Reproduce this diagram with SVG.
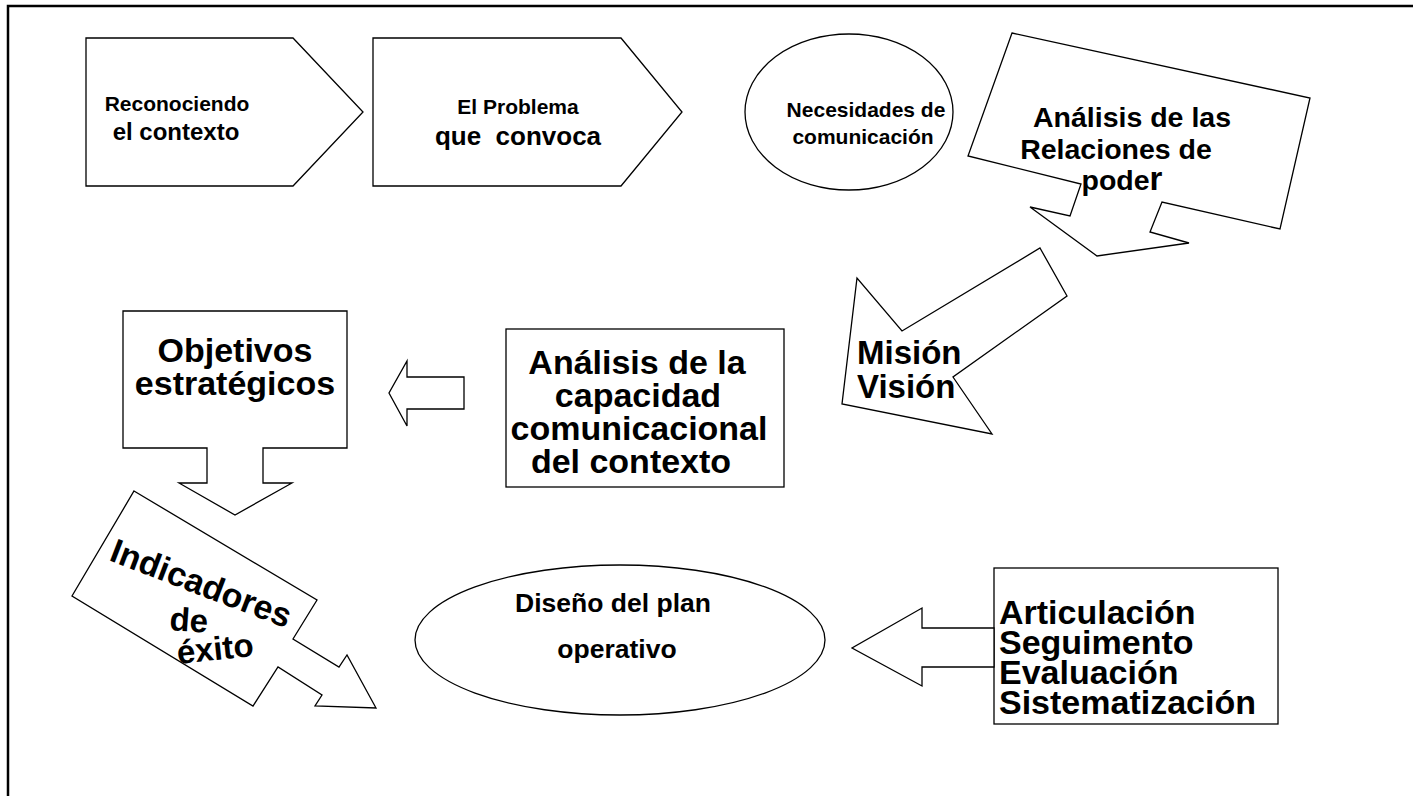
<svg xmlns="http://www.w3.org/2000/svg" width="1413" height="796" viewBox="0 0 1413 796">
<style>
.s{fill:#fff;stroke:#000;stroke-width:1.3;stroke-linejoin:miter}
.t{font-family:"Liberation Sans",Arial,sans-serif;font-weight:bold;fill:#000}
.m{text-anchor:middle}
</style>
<rect width="1413" height="796" fill="#fff"/>
<path d="M8,800 V6 H1420" fill="none" stroke="#000" stroke-width="2.5"/>

<g id="reconociendo">
<polygon class="s" points="86,38 293,38 363,112 293,186 86,186"/>
<text class="t m" font-size="21" x="177" y="111">Reconociendo</text>
<text class="t m" font-size="24" x="176" y="140">el contexto</text>
</g>

<g id="problema">
<polygon class="s" points="373,38 621,38 682,112 621,186 373,186"/>
<text class="t m" font-size="21" x="518" y="114">El Problema</text>
<text class="t m" font-size="26" x="518" y="145" xml:space="preserve">que  convoca</text>
</g>

<g id="necesidades">
<ellipse class="s" cx="849" cy="112" rx="104" ry="78"/>
<text class="t m" font-size="21" x="866" y="117">Necesidades de</text>
<text class="t m" font-size="21" x="863" y="144">comunicación</text>
</g>

<g id="relaciones">
<polygon class="s" points="1012,33 1310,98 1280,229 1162,202 1150,232 1189,243 1097,256 1030,207 1070,216 1081,184 968,156"/>
<text class="t m" font-size="28.5" x="1132" y="127">Análisis de las</text>
<text class="t m" font-size="28.5" x="1116" y="159">Relaciones de</text>
<text class="t m" font-size="28.5" x="1122" y="190">pode<tspan font-size="33">r</tspan></text>
</g>

<g id="mision">
<polygon class="s" points="1040,248 1067,296 953,377 992,434 842,404 857,278 902,331"/>
<text class="t" font-size="33" x="857" y="364">Misión</text>
<text class="t" font-size="33" x="857" y="398">Visión</text>
</g>

<g id="capacidad">
<rect class="s" x="506" y="329" width="278" height="158"/>
<text class="t m" font-size="34" x="637" y="374">Análisis de la</text>
<text class="t m" font-size="34" x="638" y="407">capacidad</text>
<text class="t m" font-size="34" x="639" y="440">comunicacional</text>
<text class="t m" font-size="34" x="631" y="473">del contexto</text>
</g>

<g id="objetivos">
<polygon class="s" points="123,311 347,311 347,448 263,448 263,483 292,483 235,515 179,483 207,483 207,448 123,448"/>
<text class="t m" font-size="34" x="235" y="362">Objetivos</text>
<text class="t m" font-size="34" x="235" y="395">estratégicos</text>
</g>

<g id="indicadores">
<polygon class="s" points="134,491 317,600 293,639 339,667 347,655 376,708 315,706 322,695 278,667 253,706 72,596"/>
<text class="t" font-size="34" transform="translate(108,560) rotate(21)">Indicadores</text>
<text class="t" font-size="33" transform="translate(169,630) rotate(4)">de</text>
<text class="t" font-size="33" transform="translate(178,664) rotate(-6)">éxito</text>
</g>

<g id="diseno">
<ellipse class="s" cx="620" cy="640" rx="205" ry="75"/>
<text class="t m" font-size="26.5" x="613" y="612">Diseño del plan</text>
<text class="t m" font-size="26.5" x="617" y="658">operativo</text>
</g>

<g id="articulacion">
<rect class="s" x="994" y="568" width="284" height="156"/>
<text class="t" font-size="34" x="999" y="624">Articulación</text>
<text class="t" font-size="34" x="999" y="654">Seguimento</text>
<text class="t" font-size="34" x="999" y="684">Evaluación</text>
<text class="t" font-size="34" x="999" y="714">Sistematización</text>
</g>

<g id="connectors">
<polygon class="s" points="464,377 464,409 407,409 407,426 389,393 407,361 407,377"/>
<polygon class="s" points="994,628 922,628 922,608 852,648 922,686 922,667 994,667"/>
</g>
</svg>
